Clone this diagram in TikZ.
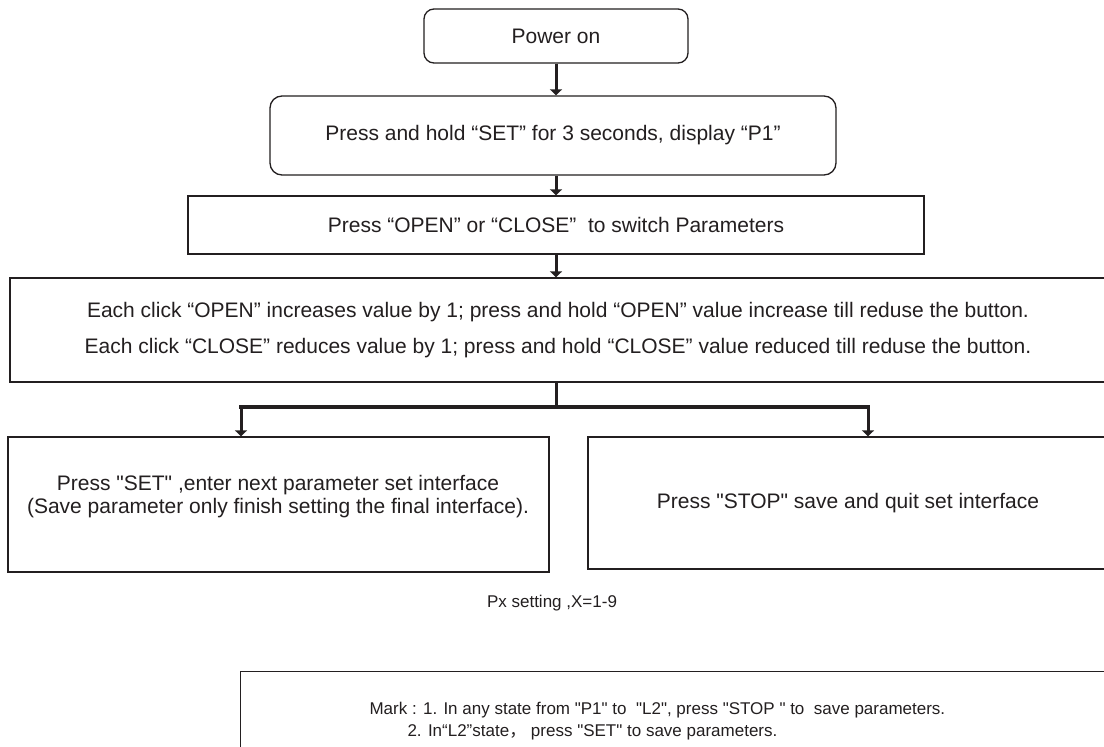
\documentclass[tikz,border=0pt]{standalone}
\usepackage{fontspec}
\setmainfont{Liberation Sans}[Ligatures=TeXOff]
\newfontfamily\cjk{Noto Sans CJK SC}
\usetikzlibrary{arrows.meta}
\definecolor{ink}{HTML}{231F20}
\begin{document}
\begin{tikzpicture}[x=1pt,y=-1pt,
  every node/.style={font=\fontsize{21}{23}\selectfont, text=ink},
  small/.style={font=\fontsize{17}{22}\selectfont},
  rbox/.style={draw=ink, line width=1.3pt, rounded corners=10pt, inner sep=0pt},
  sbox/.style={draw=ink, line width=1.3pt, inner sep=0pt},
  flow/.style={draw=ink, line width=3pt, -{Triangle[width=12pt,length=6pt]}},
  bus/.style={draw=ink, line width=4.5pt}]
\useasboundingbox (0,0) rectangle (1104,747);
\fill[white] (0,0) rectangle (1104,747);
\clip (0,0) rectangle (1104,747);

\node[rbox, minimum width=264pt, minimum height=54pt] (pwr) at (556,36) {Power on};
\node[rbox, rounded corners=12pt, minimum width=566pt, minimum height=79pt] (hold) at (553,135.5) {Press and hold “SET” for 3 seconds, display “P1”};
\node[sbox, minimum width=736pt, minimum height=58pt] (sw) at (556,225) {Press “OPEN” or “CLOSE”\ \ to switch Parameters};
\node[sbox, minimum width=1096pt, minimum height=104pt, align=center,
      font=\fontsize{21}{36}\selectfont] (val) at (558,330)
  {Each click “OPEN” increases value by 1; press and hold “OPEN” value increase till reduse the button.\\
   Each click “CLOSE” reduces value by 1; press and hold “CLOSE” value reduced till reduse the button.};

\node[sbox, minimum width=541pt, minimum height=135pt] (setbox) at (278.5,504.5) {};
\node[align=center] (settxt) at (278,496.5)
  {Press "SET" ,enter next parameter set interface\\(Save parameter only finish setting the final interface).};
\node[sbox, minimum width=520pt, minimum height=132pt] (stopbox) at (848,503) {Press "STOP" save and quit set interface};

\node[small] (px) at (552,603) {Px setting ,X=1-9};

\node[sbox, minimum width=870pt, minimum height=90pt, anchor=north west] (mark) at (240,671) {};
\node[small, anchor=base west] (m1) at (366,714.5) {Mark : 1. In any state from "P1" to\ \ "L2", press "STOP " to\ \ save parameters.};
\node[small, anchor=base west] (m2) at (404,736.5) {2. In“L2”state{\cjk ，}\ press "SET" to save parameters.};

\draw[flow] (pwr.south) -- (pwr.south |- hold.north);
\draw[flow] (sw.north |- hold.south) -- (sw.north);
\draw[flow] (sw.south) -- (sw.south |- val.north);

\coordinate (j) at (556,407);
\coordinate (bl) at (241,407);
\coordinate (br) at (868,407);
\draw[draw=ink, line width=3pt] (j |- val.south) -- (j);
\draw[bus, line cap=rect] (bl) -- (br);
\draw[flow] ([yshift=2pt]bl) -- (bl |- setbox.north);
\draw[flow] ([yshift=2pt]br) -- (br |- stopbox.north);
\end{tikzpicture}
\end{document}
